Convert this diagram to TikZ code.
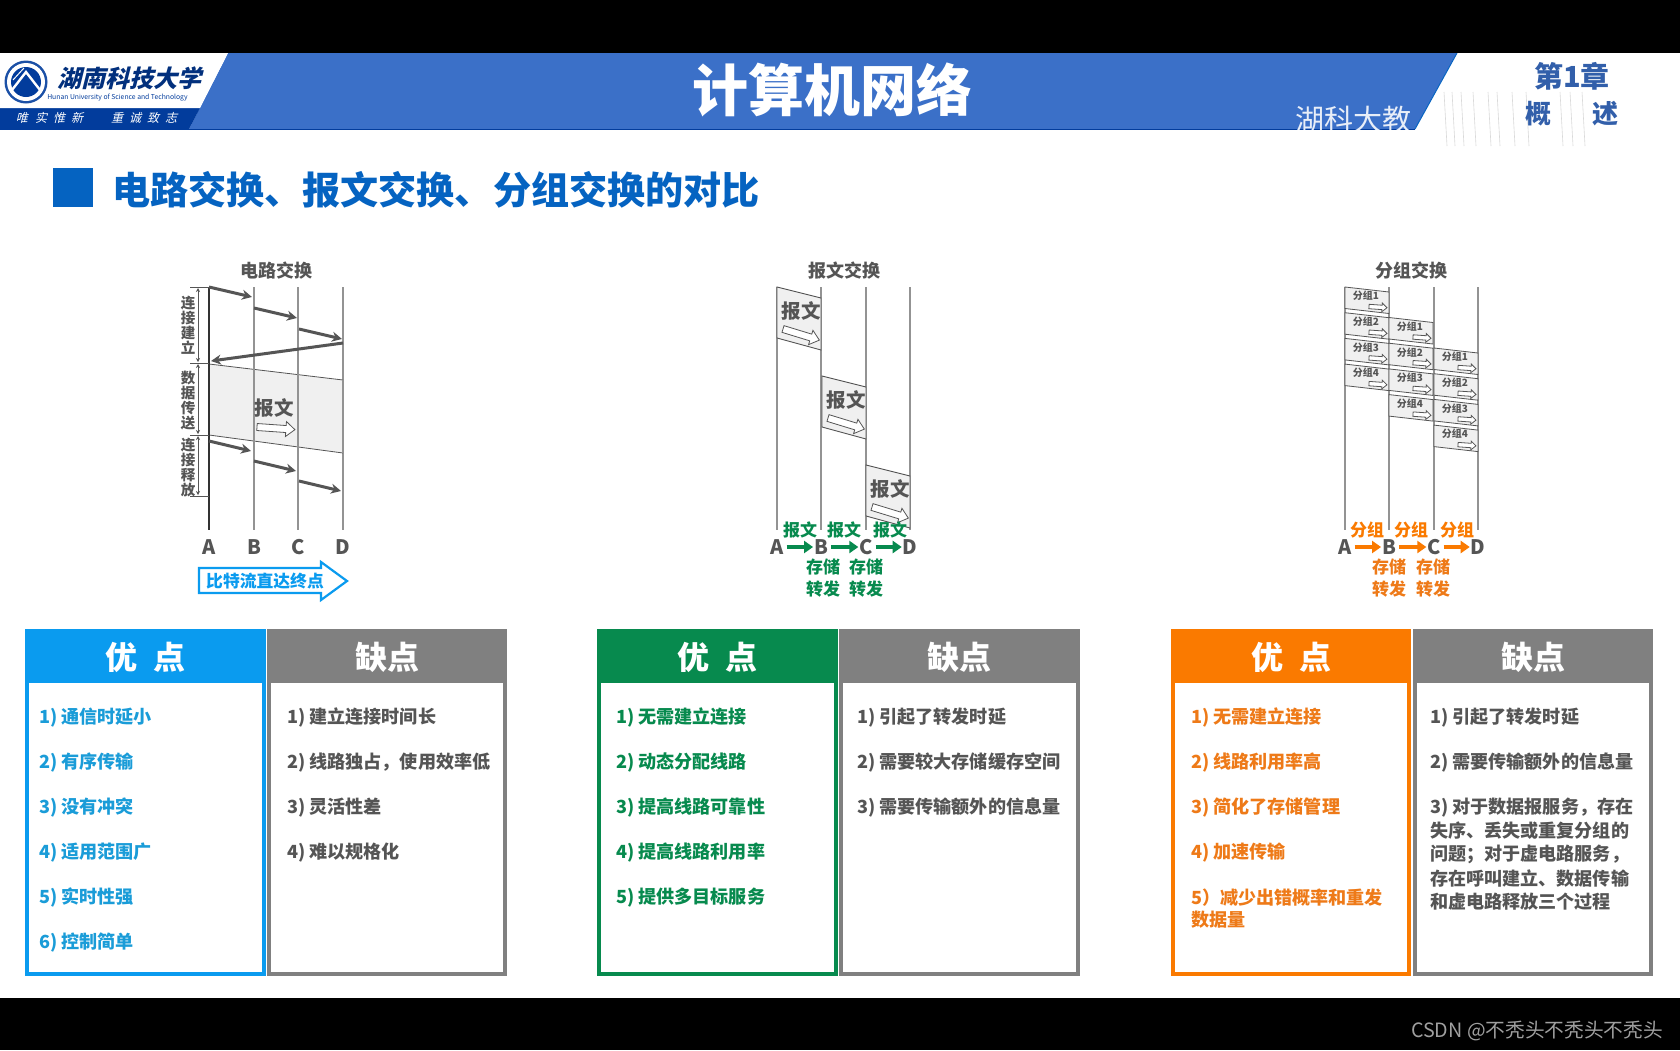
\documentclass[tikz,border=0pt]{standalone}
\usepackage{fontspec}
\setmainfont{Noto Sans CJK SC}
\newfontfamily\logofont[FakeSlant=0.25]{Noto Sans CJK SC}
\usetikzlibrary{arrows.meta,calc}
\definecolor{cblue}{HTML}{0A9BEF}
\definecolor{tblue}{HTML}{1A9CD8}
\definecolor{cgreen}{HTML}{078A4E}
\definecolor{corange}{HTML}{FA7A00}
\definecolor{torange}{HTML}{EE7A18}
\definecolor{cgray}{HTML}{808080}
\definecolor{tgray}{HTML}{555555}
\definecolor{band}{HTML}{3B70C8}
\definecolor{navy}{HTML}{023C9C}
\definecolor{title}{HTML}{0563C1}
\tikzset{
  lab/.style={inner sep=0pt,outer sep=0pt},
  lifeline/.style={draw=gray!85,line width=1.4pt},
  msgarrow/.style={draw=tgray,line width=3pt,-{Stealth[length=10pt,width=10pt]}},
  boxhead/.style={lab,font=\bfseries\fontsize{32}{32}\selectfont,text=white},
  item/.style={lab,anchor=west,font=\bfseries\fontsize{18.1}{19}\selectfont},
  difftitle/.style={lab,font=\bfseries\fontsize{18}{18}\selectfont,text=tgray},
  letter/.style={lab,font=\bfseries\fontsize{20}{20}\selectfont,text=tgray},
  vlabel/.style={lab,font=\bfseries\fontsize{14.5}{15}\selectfont,text=tgray},
  msgtext/.style={lab,font=\bfseries\fontsize{19.5}{20}\selectfont,text=tgray},
  pkttext/.style={lab,font=\bfseries\fontsize{10}{10}\selectfont,text=tgray},
  hoptext/.style={lab,font=\bfseries\fontsize{17}{17}\selectfont},
  hoparrow/.style={line width=4.4pt,-{Triangle[length=9pt,width=12pt]}},
  dimarrow/.style={draw=tgray,line width=.7pt,{Stealth[length=4pt,width=4pt]}-{Stealth[length=4pt,width=4pt]}},
  tick/.style={draw=tgray,line width=.9pt},
  msgbox/.style={draw=tgray,line width=.9pt,fill=gray!12},
  pics/holl/.style={code={
    \draw[draw=tgray,fill=white,line width=.8pt] (0,-#1*.35) -- (#1*2.9,-#1*.35) -- (#1*2.9,-#1*.75) -- (#1*3.8,0) -- (#1*2.9,#1*.75) -- (#1*2.9,#1*.35) -- (0,#1*.35) -- cycle;
  }},
  pics/hollsmall/.style={code={
    \draw[draw=tgray,fill=white,line width=.8pt] (0,-2.2) -- (13,-2.2) -- (13,-4.4) -- (18,0) -- (13,4.4) -- (13,2.2) -- (0,2.2) -- cycle;
  }},
}
% panel: x1 x2 colour heading name
\newcommand{\mypanel}[5]{%
  \fill[#3] (#1,629) rectangle (#2,976);
  \fill[white] (#1+4,683) rectangle (#2-4,972);
  \node[boxhead] (#5) at ({(#1+#2)/2},657.5) {#4};
}
\newcommand{\myline}[5]{\node[item,text=#4] (#5) at (#1,#2+1.5) {#3};}
\begin{document}
\begin{tikzpicture}[x=1pt,y=-1pt]
\useasboundingbox (0,0) rectangle (1680,1050);
\fill[white] (0,0) rectangle (1680,1050);
% header
\fill[band] (228,53) -- (1457,53) -- (1415,129) -- (189,129) -- cycle;
\fill[white] (1457,53) -- (1680,53) -- (1680,129) -- (1415,129) -- cycle;
\fill[navy] (0,108) -- (200,108) -- (189,129) -- (0,129) -- cycle;
\fill[white] (0,53) -- (228,53) -- (200,108) -- (0,108) -- cycle;
\draw[title,line width=1pt] (1457,53) -- (1415,129);
\draw[navy,line width=1pt] (0,129) -- (1415,129);
\fill[black] (0,0) rectangle (1680,53);
\fill[black] (0,998) rectangle (1680,1050);
% logo
\fill[navy!90] (26,82) circle (21.5);
\fill[white] (26,82) circle (19);
\fill[navy] (26,82) circle (15);
\draw[white,line width=2.4pt] (12,90) -- (26,72) -- (40,90);
\draw[white,line width=1pt] (13,80) -- (24,68);
\node[lab,text=navy!80!black,font=\logofont\bfseries\fontsize{24}{24}\selectfont] (logoname) at (129.5,78) {湖南科技大学};
\node[lab,text=navy,font=\fontsize{6.8}{7}\selectfont] (logoen) at (117.5,98) {Hunan University of Science and Technology};
\foreach \c/\x [count=\i] in {唯/22,实/41,惟/59,新/77,重/117,诚/135,致/153,志/171}
  \node[lab,text=white,font=\logofont\fontsize{12}{12}\selectfont] (motto\i) at (\x,118) {\c};
\node[lab,text=white,font=\bfseries\fontsize{56}{56}\selectfont] (maintitle) at (832,90) {计算机网络};
\begin{scope}
  \clip (1280,90) rectangle (1680,129);
  \node[lab,text=white!88!band,font=\fontsize{29}{29}\selectfont] (mark) at (1353,120) {湖科大教};
\end{scope}
\foreach \x in {1444,1452,1461,1473,1488,1497,1512,1526,1560,1570,1582}
  \draw[gray!30,line width=.6pt] (\x,92) -- (\x+3,146);
\node[lab,text=band!85!black,font=\bfseries\fontsize{29}{29}\selectfont] (chap) at (1572,76) {第1章};
\node[lab,text=band!85!black,font=\bfseries\fontsize{26}{26}\selectfont] (gai) at (1538,114) {概};
\node[lab,text=band!85!black,font=\bfseries\fontsize{26}{26}\selectfont] (shu) at (1605,114) {述};
% section heading
\fill[title] (53,168) rectangle (93,207);
\node[lab,anchor=west,text=title,font=\bfseries\fontsize{38.1}{39}\selectfont] (sect) at (112,190) {电路交换、报文交换、分组交换的对比};
% ---- circuit switching
\node[difftitle] (t1) at (276,271) {电路交换};
\foreach \n/\x in {B/254,C/298,D/343} \draw[lifeline] (\x,287) -- (\x,530);
\fill[gray!12] (209,364) -- (343,380) -- (343,453) -- (209,435) -- cycle;
\draw[tgray,line width=.8pt] (209,364) -- (343,380) (209,435) -- (343,453);
\foreach \n/\x in {B/254,C/298} \draw[lifeline] (\x,364) -- (\x,453);
\draw[lifeline] (343,380) -- (343,453);
\draw[draw=black!80,line width=1.2pt] (209,287) -- (209,530);
\draw[msgarrow] (209,287) -- (252,297);
\draw[msgarrow] (254,308) -- (297,318);
\draw[msgarrow] (299,329) -- (342,339);
\draw[msgarrow] (343,343) -- (211,361);
\draw[msgarrow] (209,441) -- (251,451);
\draw[msgarrow] (254,461) -- (296,471);
\draw[msgarrow] (299,481) -- (341,491);
\foreach \y in {287,363,435,496} \draw[tick] (190,\y) -- (209,\y);
\draw[dimarrow] (198,288) -- (198,362);
\draw[dimarrow] (198,364) -- (198,434);
\draw[dimarrow] (198,436) -- (198,495);
\foreach \c/\y [count=\i] in {连/303,接/318,建/333,立/348,数/378,据/393,传/408,送/423,连/445,接/460,释/475,放/490}
  \node[vlabel] (vl\i) at (188,\y) {\c};
\node[msgtext] (m1) at (274,408) {报文};
\pic[rotate=-4] at (257,427) {holl=10};
\foreach \n/\x in {A/209,B/254,C/298,D/343}
  \node[letter] (\n1) at (\x,547) {\n};
\draw[cblue,fill=white,line width=2.2pt,line join=miter] (199,568) -- (321,568) -- (321,562) -- (347,581) -- (321,600) -- (321,593) -- (199,593) -- cycle;
\node[lab,text=cblue,font=\bfseries\fontsize{16.8}{17}\selectfont] (bits) at (265,581) {比特流直达终点};
% ---- message switching
\node[difftitle] (t2) at (844,271) {报文交换};
\foreach \x in {777,821,866,910} \draw[lifeline,line width=1.1pt] (\x,287) -- (\x,530);
\foreach \x/\y/\m/\lx/\ly in {777/287/a/801/311,822/376/b/846/400,866/465/c/890/489}{
  \draw[msgbox] (\x,\y) -- (\x+44,\y+11) -- (\x+44,\y+63) -- (\x,\y+51) -- cycle;
  \node[msgtext] (msg\m) at (\lx,\ly) {报文};
  \pic[rotate=-17] at (\x+6,\y+42) {holl=10};
}
\foreach \n/\x in {A/777,B/821,C/866,D/910}
  \node[letter] (\n2) at (\x,547) {\n};
\foreach \a/\b in {A/B,B/C,C/D}
  \draw[hoparrow,cgreen] ($(\a2.east)+(3,0)$) -- ($(\b2.west)+(-1,0)$);
\foreach \x [count=\i] in {800,844,890}
  \node[hoptext,text=cgreen] (hg\i) at (\x,530) {报文};
\foreach \x [count=\i] in {823,866}{
  \node[hoptext,text=cgreen] (sg\i) at (\x,567) {存储};
  \node[hoptext,text=cgreen] (fg\i) at (\x,589) {转发};
}
% ---- packet switching
\node[difftitle] (t3) at (1411,271) {分组交换};
\foreach \x in {1345,1389,1434,1478} \draw[lifeline] (\x,287) -- (\x,530);
\foreach \col/\x in {0/1345,1/1389,2/1434}
  \foreach \row in {0,1,2,3}{
    \pgfmathsetmacro{\yy}{287+30.5*\col+25.7*\row}
    \pgfmathtruncatemacro{\num}{\row+1}
    \draw[msgbox,line width=.8pt] (\x,\yy) -- (\x+44,\yy+5) -- (\x+44,\yy+26.5) -- (\x,\yy+21.5) -- cycle;
    \node[pkttext] (pk\col\row) at (\x+21,\yy+9) {分组\num};
    \pic[rotate=-4] at (\x+24,\yy+19.5) {hollsmall};
  }
\foreach \n/\x in {A/1345,B/1389,C/1434,D/1478}
  \node[letter] (\n3) at (\x,547) {\n};
\foreach \a/\b in {A/B,B/C,C/D}
  \draw[hoparrow,corange] ($(\a3.east)+(3,0)$) -- ($(\b3.west)+(-1,0)$);
\foreach \x [count=\i] in {1367,1411,1457}
  \node[hoptext,text=corange] (ho\i) at (\x,530) {分组};
\foreach \x [count=\i] in {1389,1433}{
  \node[hoptext,text=torange] (so\i) at (\x,567) {存储};
  \node[hoptext,text=torange] (fo\i) at (\x,589) {转发};
}
% ---- panels
\mypanel{25}{266}{cblue}{优\hspace{.5em}点}{h1}
\mypanel{267}{507}{cgray}{缺点}{h2}
\mypanel{597}{838}{cgreen}{优\hspace{.5em}点}{h3}
\mypanel{839}{1080}{cgray}{缺点}{h4}
\mypanel{1171}{1411}{corange}{优\hspace{.5em}点}{h5}
\mypanel{1413}{1653}{cgray}{缺点}{h6}
\myline{39}{716}{1) 通信时延小}{tblue}{a1}
\myline{39}{761}{2) 有序传输}{tblue}{a2}
\myline{39}{806}{3) 没有冲突}{tblue}{a3}
\myline{39}{851}{4) 适用范围广}{tblue}{a4}
\myline{39}{896}{5) 实时性强}{tblue}{a5}
\myline{39}{941}{6) 控制简单}{tblue}{a6}
\myline{287}{716}{1) 建立连接时间长}{tgray}{b1}
\myline{287}{761}{2) 线路独占，使用效率低}{tgray}{b2}
\myline{287}{806}{3) 灵活性差}{tgray}{b3}
\myline{287}{851}{4) 难以规格化}{tgray}{b4}
\myline{616}{716}{1) 无需建立连接}{cgreen}{c1}
\myline{616}{761}{2) 动态分配线路}{cgreen}{c2}
\myline{616}{806}{3) 提高线路可靠性}{cgreen}{c3}
\myline{616}{851}{4) 提高线路利用率}{cgreen}{c4}
\myline{616}{896}{5) 提供多目标服务}{cgreen}{c5}
\myline{857}{716}{1) 引起了转发时延}{tgray}{d1}
\myline{857}{761}{2) 需要较大存储缓存空间}{tgray}{d2}
\myline{857}{806}{3) 需要传输额外的信息量}{tgray}{d3}
\myline{1191}{716}{1) 无需建立连接}{torange}{e1}
\myline{1191}{761}{2) 线路利用率高}{torange}{e2}
\myline{1191}{806}{3) 简化了存储管理}{torange}{e3}
\myline{1191}{851}{4) 加速传输}{torange}{e4}
\myline{1191}{896}{5）减少出错概率和重发}{torange}{e5}
\myline{1191}{918}{数据量}{torange}{e6}
\myline{1430}{716}{1) 引起了转发时延}{tgray}{f1}
\myline{1430}{761}{2) 需要传输额外的信息量}{tgray}{f2}
\myline{1430}{806}{3) 对于数据报服务，存在}{tgray}{f3}
\myline{1430}{829.5}{失序、丢失或重复分组的}{tgray}{f4}
\myline{1430}{853}{问题；对于虚电路服务，}{tgray}{f5}
\myline{1430}{877}{存在呼叫建立、数据传输}{tgray}{f6}
\myline{1430}{900}{和虚电路释放三个过程}{tgray}{f7}
\node[lab,anchor=east,text=gray!75,font=\fontsize{19.7}{20}\selectfont] (csdn) at (1663,1031) {CSDN @不秃头不秃头不秃头};
\end{tikzpicture}
\end{document}
